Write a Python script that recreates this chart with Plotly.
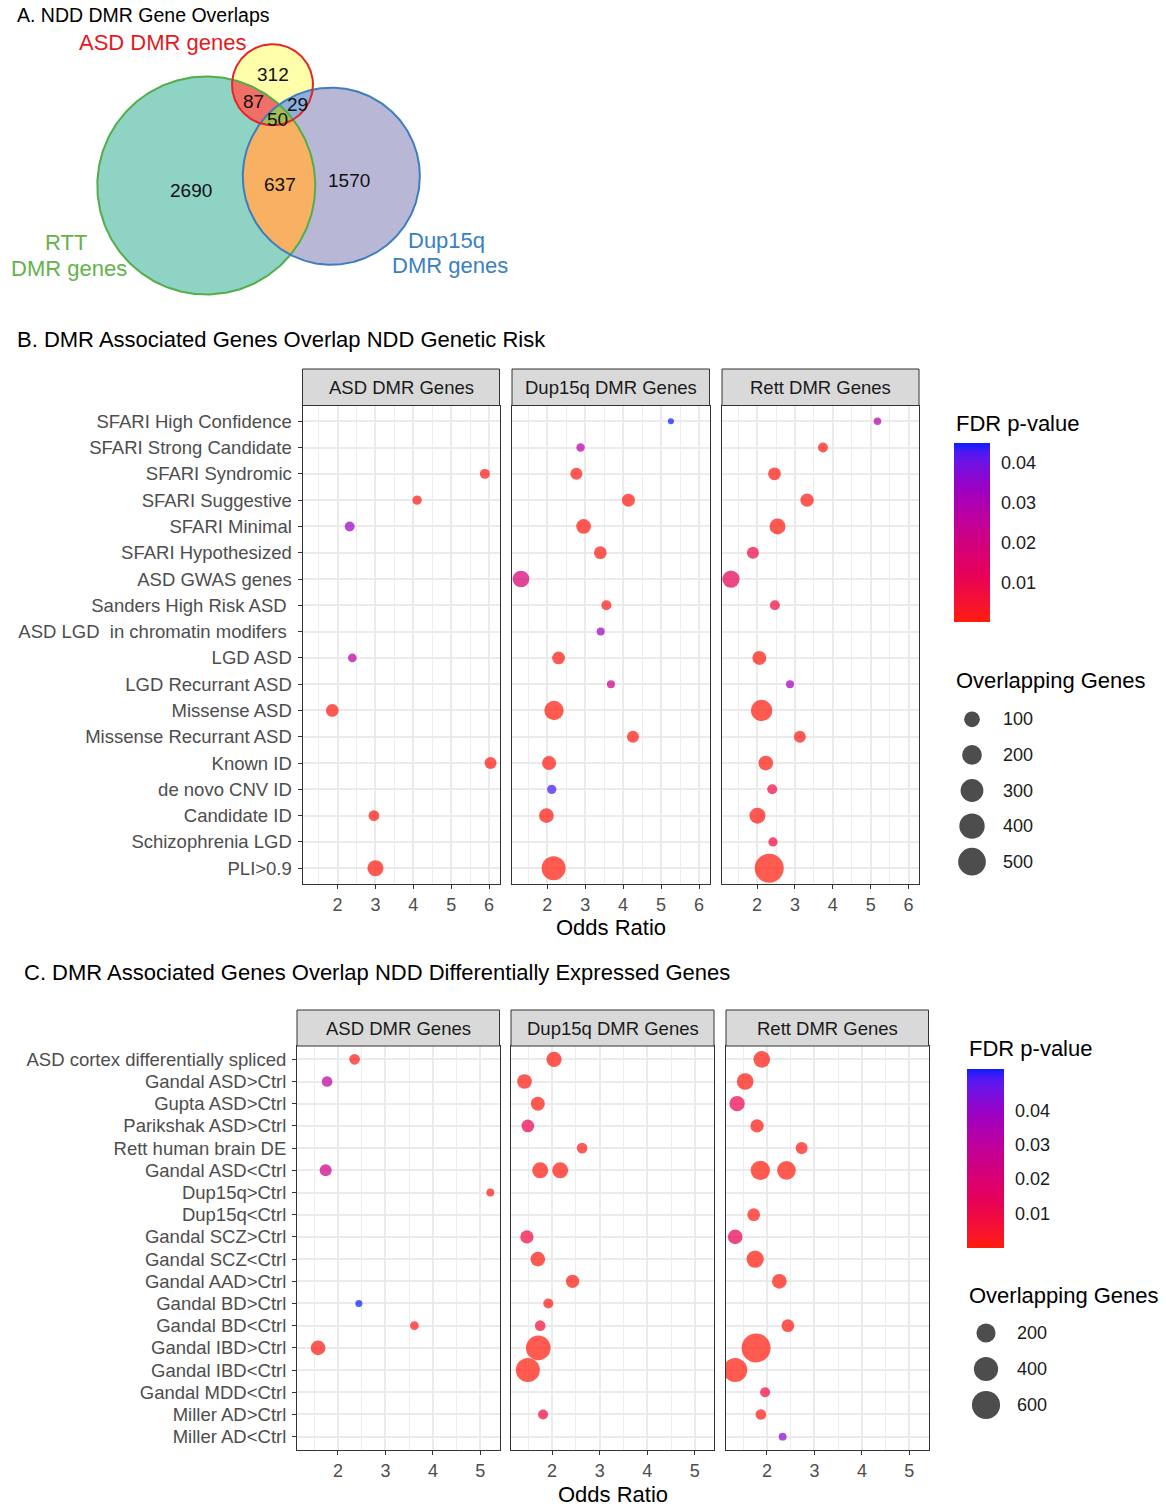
import math
import plotly.graph_objects as go

W, H = 1166, 1506
FONT = "Liberation Sans, Arial, Helvetica, sans-serif"

# ---------------- Panel A: DMR gene overlaps (region counts) ----------------
VENN_REGIONS = ["ASD only", "RTT only", "Dup15q only", "ASD & RTT",
                "ASD & Dup15q", "RTT & Dup15q", "ASD & RTT & Dup15q"]
VENN_COUNTS = [312, 2690, 1570, 87, 29, 637, 50]

# ---------------- Panel B: overlap with NDD genetic risk ----------------
FACETS = ["ASD DMR Genes", "Dup15q DMR Genes", "Rett DMR Genes"]
B_TERMS = [
    "SFARI High Confidence", "SFARI Strong Candidate", "SFARI Syndromic",
    "SFARI Suggestive", "SFARI Minimal", "SFARI Hypothesized", "ASD GWAS genes",
    "Sanders High Risk ASD\u00a0", "ASD LGD\u00a0 in chromatin modifers\u00a0",
    "LGD ASD", "LGD Recurrant ASD", "Missense ASD", "Missense Recurrant ASD",
    "Known ID", "de novo CNV ID", "Candidate ID", "Schizophrenia LGD", "PLI>0.9",
]
B_ASD_OR = [None, None, 5.89, 4.10, 2.32, None, None, None, None,
            2.39, None, 1.86, None, 6.04, None, 2.96, None, 3.00]
B_ASD_FDR = [None, None, 0.0008, 0.0010, 0.033, None, None, None, None,
             0.028, None, 0.0008, None, 0.0006, None, 0.0008, None, 0.0004]
B_ASD_GENES = [None, None, 17, 12, 17, None, None, None, None,
               8, None, 48, None, 38, None, 24, None, 106]

B_DUP_OR = [5.26, 2.88, 2.77, 4.14, 2.96, 3.40, 1.31, 3.56, 3.41,
            2.30, 3.68, 2.18, 4.26, 2.05, 2.12, 1.98, None, 2.17]
B_DUP_FDR = [0.045, 0.027, 0.0008, 0.0005, 0.0004, 0.0008, 0.018, 0.0012, 0.033,
             0.0005, 0.022, 0.0002, 0.0005, 0.0004, 0.043, 0.0004, None, 0.0001]
B_DUP_GENES = [1, 7, 38, 52, 80, 48, 121, 17, 5,
               48, 5, 188, 38, 68, 12, 80, None, 344]

B_RETT_OR = [5.18, 3.74, 2.46, 3.32, 2.54, 1.89, 1.31, 2.47, None,
             2.06, 2.87, 2.12, 3.13, 2.23, 2.40, 2.01, 2.42, 2.32]
B_RETT_FDR = [0.027, 0.0012, 0.0008, 0.0008, 0.0004, 0.009, 0.012, 0.007, None,
              0.0004, 0.032, 0.0002, 0.0008, 0.0004, 0.008, 0.0004, 0.008, 0.0001]
B_RETT_GENES = [3, 17, 48, 57, 106, 38, 135, 17, None,
                68, 5, 248, 38, 80, 17, 106, 12, 563]

B_X_TICKS = [2, 3, 4, 5, 6]
B_SIZE_BREAKS = [100, 200, 300, 400, 500]
B_FDR_TICKS = [0.01, 0.02, 0.03, 0.04]

# ---------------- Panel C: overlap with NDD differentially expressed genes ----------------
C_TERMS = [
    "ASD cortex differentially spliced", "Gandal ASD>Ctrl", "Gupta ASD>Ctrl",
    "Parikshak ASD>Ctrl", "Rett human brain DE", "Gandal ASD<Ctrl", "Gandal ASD<Ctrl",
    "Dup15q>Ctrl", "Dup15q<Ctrl", "Gandal SCZ>Ctrl", "Gandal SCZ<Ctrl",
    "Gandal AAD>Ctrl", "Gandal BD>Ctrl", "Gandal BD<Ctrl", "Gandal IBD>Ctrl",
    "Gandal IBD<Ctrl", "Gandal MDD<Ctrl", "Miller AD>Ctrl", "Miller AD<Ctrl",
]
C_ASD_OR = [2.35, 1.77, None, None, None, 1.74, None, 5.21, None, None, None,
            None, 2.44, 3.61, 1.58, None, None, None, None]
C_ASD_FDR = [0.0012, 0.030, None, None, None, 0.025, None, 0.0015, None, None, None,
             None, 0.052, 0.0015, 0.0008, None, None, None, None]
C_ASD_GENES = [19, 19, None, None, None, 35, None, 2, None, None, None,
               None, 1, 5, 80, None, None, None, None]

C_DUP_OR = [2.04, 1.42, 1.70, 1.49, 2.63, 1.75, 2.17, None, None, 1.47, 1.70,
            2.43, 1.92, 1.75, 1.71, 1.49, None, 1.81, None]
C_DUP_FDR = [0.0004, 0.0008, 0.0008, 0.012, 0.0012, 0.0004, 0.0004, None, None, 0.009, 0.0008,
             0.0008, 0.0012, 0.007, 0.0001, 0.0001, None, 0.009, None]
C_DUP_GENES = [93, 80, 67, 45, 19, 110, 110, None, None, 54, 80,
               54, 13, 19, 421, 388, None, 13, None]

C_RETT_OR = [1.89, 1.54, 1.37, 1.79, 2.73, 1.86, 2.41, None, 1.72, 1.33, 1.75,
             2.26, None, 2.44, 1.77, 1.33, 1.96, 1.87, 2.33]
C_RETT_FDR = [0.0004, 0.0004, 0.012, 0.0008, 0.0012, 0.0002, 0.0002, None, 0.0012, 0.013, 0.0004,
              0.0004, None, 0.0008, 0.0001, 0.0001, 0.009, 0.0012, 0.042]
C_RETT_GENES = [127, 127, 93, 54, 35, 204, 184, None, 45, 80, 143,
                80, None, 45, 650, 388, 13, 19, 2]

C_X_TICKS = [2, 3, 4, 5]
C_SIZE_BREAKS = [200, 400, 600]
C_FDR_TICKS = [0.01, 0.02, 0.03, 0.04]


# ---------------- colour scale: red -> blue interpolated in CIELAB ----------------
def _lin(c):
    c = c / 255.0
    return c / 12.92 if c <= 0.04045 else ((c + 0.055) / 1.055) ** 2.4


def rgb_to_lab(rgb):
    r, g, b = (_lin(v) for v in rgb)
    x = (0.4124 * r + 0.3576 * g + 0.1805 * b) / 0.95047
    y = (0.2126 * r + 0.7152 * g + 0.0722 * b) / 1.0
    z = (0.0193 * r + 0.1192 * g + 0.9505 * b) / 1.08883

    def f(t):
        return t ** (1 / 3) if t > 216 / 24389 else (24389 / 27 * t + 16) / 116

    fx_, fy_, fz_ = f(x), f(y), f(z)
    return 116 * fy_ - 16, 500 * (fx_ - fy_), 200 * (fy_ - fz_)


def lab_to_rgb(lab):
    L, a, b = lab
    fy_ = (L + 16) / 116
    fx_ = fy_ + a / 500
    fz_ = fy_ - b / 200

    def finv(t):
        return t ** 3 if t ** 3 > 216 / 24389 else (116 * t - 16) / (24389 / 27)

    x, y, z = 0.95047 * finv(fx_), finv(fy_), 1.08883 * finv(fz_)
    r = 3.2406 * x - 1.5372 * y - 0.4986 * z
    g = -0.9689 * x + 1.8758 * y + 0.0415 * z
    bb = 0.0557 * x - 0.2040 * y + 1.0570 * z

    def gam(c):
        c = min(max(c, 0.0), 1.0)
        return 12.92 * c if c <= 0.0031308 else 1.055 * c ** (1 / 2.4) - 0.055

    return tuple(int(round(255 * gam(c))) for c in (r, g, bb))


LOW, HIGH = rgb_to_lab((255, 28, 12)), rgb_to_lab((10, 30, 255))
FDR_SCALE = []
for i in range(21):
    t = i / 20
    lab = tuple(LOW[j] + (HIGH[j] - LOW[j]) * t for j in range(3))
    FDR_SCALE.append([t, "rgb(%d,%d,%d)" % lab_to_rgb(lab)])


# ---------------- helpers ----------------
def size_scale(values, d_min, d_max):
    vals = [v for v in values if v is not None]
    lo, hi = min(vals), max(vals)

    def f(n):
        return d_min + (d_max - d_min) * math.sqrt(max(n - lo, 0) / (hi - lo))
    return f


def html(s):
    return s.replace("<", "&lt;").replace(">", "&gt;")


def fx(x):
    return x / W


def fy(y):
    return 1 - y / H


fig = go.Figure()
layout = dict(
    width=W, height=H, margin=dict(l=0, r=0, t=0, b=0),
    paper_bgcolor="white", plot_bgcolor="rgba(0,0,0,0)",
    showlegend=False, font=dict(family=FONT, color="#000000"),
)
shapes, annotations = [], []

GRID = "#EBEBEB"
BORDER = "#333333"
TICK_TXT = "#4D4D4D"


def add_panel(idx, terms, facets_data, x_px, y_top, y_bot, strip_top,
              x_ticks, coloraxis, size_fn, xrange_):
    rows = list(dict.fromkeys(terms))
    nrow = len(rows)
    minor = [t + 0.5 for t in range(0, 8) if xrange_[0] < t + 0.5 < xrange_[1]]
    for k, ((x0, x1), (ors, fdrs, genes)) in enumerate(zip(x_px, facets_data)):
        ax = idx + k
        xs, ys, cs, ss = [], [], [], []
        for term, o, p, n in zip(terms, ors, fdrs, genes):
            if o is None:
                continue
            xs.append(o)
            ys.append(rows.index(term) + 1)
            cs.append(p)
            ss.append(size_fn(n))
        sfx = "" if ax == 1 else str(ax)
        fig.add_trace(go.Scatter(
            x=xs, y=ys, mode="markers", xaxis="x" + sfx, yaxis="y" + sfx,
            marker=dict(size=ss, color=cs, coloraxis=coloraxis, opacity=0.72,
                        line=dict(width=0)),
            hoverinfo="skip",
        ))
        layout["xaxis" + sfx] = dict(
            domain=[fx(x0), fx(x1)], range=xrange_, anchor="y" + sfx,
            tickmode="array", tickvals=x_ticks, ticks="outside", ticklen=4,
            tickwidth=1, tickcolor=BORDER,
            tickfont=dict(size=18, color=TICK_TXT, family=FONT),
            showgrid=True, gridcolor=GRID, gridwidth=1.5,
            minor=dict(tickmode="array", tickvals=minor, showgrid=True,
                       gridcolor="#EDEDED", gridwidth=1, ticks=""),
            showline=True, mirror=True, linecolor=BORDER, linewidth=1,
            zeroline=False, fixedrange=True,
        )
        layout["yaxis" + sfx] = dict(
            domain=[fy(y_bot), fy(y_top)], range=[nrow + 0.6, 0.4],
            anchor="x" + sfx, tickmode="array",
            tickvals=list(range(1, nrow + 1)), ticktext=[html(r) for r in rows],
            showticklabels=(k == 0), ticks="outside" if k == 0 else "",
            ticklen=4, tickwidth=1, tickcolor=BORDER, ticklabelstandoff=2,
            tickfont=dict(size=18.5, color=TICK_TXT, family=FONT),
            showgrid=True, gridcolor=GRID, gridwidth=1.5,
            showline=True, mirror=True, linecolor=BORDER, linewidth=1,
            zeroline=False, fixedrange=True,
        )
        # facet strip
        shapes.append(dict(type="rect", xref="paper", yref="paper",
                           x0=fx(x0), x1=fx(x1), y0=fy(y_top), y1=fy(strip_top),
                           fillcolor="#D9D9D9", line=dict(color=BORDER, width=1)))
        annotations.append(dict(xref="paper", yref="paper",
                                x=fx((x0 + x1) / 2), y=fy((y_top + strip_top) / 2),
                                text=FACETS[k], showarrow=False,
                                font=dict(size=18.5, color="#1A1A1A", family=FONT),
                                xanchor="center", yanchor="middle"))


def x_range(*lists):
    vals = [v for l in lists for v in l if v is not None]
    lo, hi = min(vals), max(vals)
    pad = (hi - lo) * 0.05
    return [lo - pad, hi + pad]


b_size = size_scale(B_ASD_GENES + B_DUP_GENES + B_RETT_GENES, 6.1, 29.0)
c_size = size_scale(C_ASD_GENES + C_DUP_GENES + C_RETT_GENES, 7.0, 29.0)

add_panel(1, B_TERMS,
          [(B_ASD_OR, B_ASD_FDR, B_ASD_GENES),
           (B_DUP_OR, B_DUP_FDR, B_DUP_GENES),
           (B_RETT_OR, B_RETT_FDR, B_RETT_GENES)],
          [(302.5, 499.5), (512, 709.5), (722, 919)], 405.5, 884, 369,
          B_X_TICKS, "coloraxis", b_size, x_range(B_ASD_OR, B_DUP_OR, B_RETT_OR))
add_panel(4, C_TERMS,
          [(C_ASD_OR, C_ASD_FDR, C_ASD_GENES),
           (C_DUP_OR, C_DUP_FDR, C_DUP_GENES),
           (C_RETT_OR, C_RETT_FDR, C_RETT_GENES)],
          [(297, 499.5), (511, 714), (726, 928.5)], 1046, 1450, 1010,
          C_X_TICKS, "coloraxis2", c_size, x_range(C_ASD_OR, C_DUP_OR, C_RETT_OR))


def fdr_max(*lists):
    return max(v for l in lists for v in l if v is not None)


BAR_LEN = 179


def colorbar(x_left, y_top, thick, ticks, cmax):
    # white tick marks on both edges of the bar, as in the ggplot guide
    for v in ticks:
        y = y_top + (cmax - v) / cmax * BAR_LEN
        for a, b in ((x_left, x_left + 7), (x_left + thick - 7, x_left + thick)):
            shapes.append(dict(type="line", xref="paper", yref="paper",
                               x0=fx(a), x1=fx(b), y0=fy(y), y1=fy(y),
                               line=dict(color="rgba(255,255,255,0.75)", width=1)))
    return dict(
        thickness=thick, thicknessmode="pixels", len=BAR_LEN, lenmode="pixels",
        x=fx(x_left), xanchor="left", y=fy(y_top), yanchor="top",
        xpad=0, ypad=0, outlinewidth=0,
        tickmode="array", tickvals=ticks, ticktext=["%.2f" % t for t in ticks],
        ticks="outside", ticklen=8, tickcolor="rgba(255,255,255,0)", tickwidth=1,
        tickfont=dict(size=18, color="#1A1A1A", family=FONT),
    )


B_CMAX = fdr_max(B_ASD_FDR, B_DUP_FDR, B_RETT_FDR)
C_CMAX = fdr_max(C_ASD_FDR, C_DUP_FDR, C_RETT_FDR)
layout["coloraxis"] = dict(colorscale=FDR_SCALE, cmin=0, cmax=B_CMAX,
                           colorbar=colorbar(954, 443, 36, B_FDR_TICKS, B_CMAX))
layout["coloraxis2"] = dict(colorscale=FDR_SCALE, cmin=0, cmax=C_CMAX,
                            colorbar=colorbar(967, 1069, 37, C_FDR_TICKS, C_CMAX))

# ---------------- pixel-space overlay for the Venn diagram and size keys ----------------
layout["xaxis7"] = dict(domain=[0, 1], range=[0, W], visible=False, fixedrange=True,
                        anchor="y7")
layout["yaxis7"] = dict(domain=[0, 1], range=[H, 0], visible=False, fixedrange=True,
                        anchor="x7")

counts = dict(zip(VENN_REGIONS, VENN_COUNTS))
totals = {
    "ASD": sum(c for r, c in counts.items() if "ASD" in r),
    "RTT": sum(c for r, c in counts.items() if "RTT" in r),
    "Dup15q": sum(c for r, c in counts.items() if "Dup15q" in r),
}
RADIUS_PER_SQRT = 1.852
centres = {"ASD": (272.5, 84.7), "RTT": (206.3, 185.5), "Dup15q": (331.3, 176.2)}
circles = {k: (centres[k][0], centres[k][1], RADIUS_PER_SQRT * math.sqrt(totals[k]))
           for k in totals}


def ring(c, n=360):
    cx, cy, r = c
    return [(cx + r * math.cos(2 * math.pi * i / n), cy + r * math.sin(2 * math.pi * i / n))
            for i in range(n)]


def inside(p, c):
    return (p[0] - c[0]) ** 2 + (p[1] - c[1]) ** 2 <= c[2] ** 2 + 1e-6


def intersection(names):
    cs = [circles[n] for n in names]
    pts = []
    for i, c in enumerate(cs):
        others = [o for j, o in enumerate(cs) if j != i]
        pts += [p for p in ring(c, 720) if all(inside(p, o) for o in others)]
    mx = sum(p[0] for p in pts) / len(pts)
    my = sum(p[1] for p in pts) / len(pts)
    pts.sort(key=lambda p: math.atan2(p[1] - my, p[0] - mx))
    return pts


def poly_trace(pts, fill=None, line=None, width=0):
    xs = [p[0] for p in pts] + [pts[0][0]]
    ys = [p[1] for p in pts] + [pts[0][1]]
    return go.Scatter(x=xs, y=ys, xaxis="x7", yaxis="y7", mode="lines",
                      fill="toself" if fill else None, fillcolor=fill,
                      line=dict(color=line or "rgba(0,0,0,0)", width=width),
                      hoverinfo="skip")


fig.add_trace(poly_trace(ring(circles["RTT"]), fill="#8FD3C4"))
fig.add_trace(poly_trace(ring(circles["Dup15q"]), fill="#B9B7D6"))
fig.add_trace(poly_trace(ring(circles["ASD"]), fill="#FFFFAA"))
fig.add_trace(poly_trace(intersection(["ASD", "RTT"]), fill="#F07067"))
fig.add_trace(poly_trace(intersection(["ASD", "Dup15q"]), fill="#8DB0DC"))
fig.add_trace(poly_trace(intersection(["RTT", "Dup15q"]), fill="#F8B062"))
fig.add_trace(poly_trace(intersection(["ASD", "RTT", "Dup15q"]), fill="#A3BE52"))
fig.add_trace(poly_trace(ring(circles["RTT"]), line="#52AE48", width=2))
fig.add_trace(poly_trace(ring(circles["Dup15q"]), line="#3E7EC0", width=2))
fig.add_trace(poly_trace(ring(circles["ASD"]), line="#E3262A", width=2))

venn_label_pos = {
    "ASD only": (273.3, 74), "ASD & RTT": (253.3, 101.5), "ASD & Dup15q": (297.5, 104),
    "ASD & RTT & Dup15q": (277.3, 119), "RTT only": (190.7, 190.5),
    "RTT & Dup15q": (280, 184), "Dup15q only": (349.3, 180),
}
for region, cnt in zip(VENN_REGIONS, VENN_COUNTS):
    x, y = venn_label_pos[region]
    annotations.append(dict(xref="x7", yref="y7", x=x, y=y, text=str(cnt),
                            showarrow=False, xanchor="center", yanchor="middle",
                            font=dict(size=19, color="#111111", family=FONT)))


def text(x, y, s, size, color="#000000", xanchor="left"):
    annotations.append(dict(xref="x7", yref="y7", x=x, y=y, text=s, showarrow=False,
                            xanchor=xanchor, yanchor="middle",
                            font=dict(size=size, color=color, family=FONT)))


text(163.3, 42, "ASD DMR genes", 22, "#E41A1C", "center")
text(66, 242, "RTT", 22, "#63B34A", "center")
text(69, 268.5, "DMR genes", 22, "#63B34A", "center")
text(446, 240, "Dup15q", 22, "#3A80C3", "center")
text(449.5, 265.5, "DMR genes", 22, "#3A80C3", "center")

# panel titles
text(15, 15, "A. NDD DMR Gene Overlaps", 19.5)
text(15, 339, "B. DMR Associated Genes Overlap NDD Genetic Risk", 22)
text(22, 972, "C. DMR Associated Genes Overlap NDD Differentially Expressed Genes", 22)
text(610.5, 927.5, "Odds Ratio", 22, "#000000", "center")
text(612.5, 1494, "Odds Ratio", 22, "#000000", "center")

# legends
text(954, 423, "FDR p-value", 22)
text(954, 680, "Overlapping Genes", 22)
text(967, 1048, "FDR p-value", 22)
text(967, 1295, "Overlapping Genes", 22)


def size_key(values, fn, x_dot, y0, step, x_lab):
    ys = [y0 + i * step for i in range(len(values))]
    fig.add_trace(go.Scatter(
        x=[x_dot] * len(values), y=ys, xaxis="x7", yaxis="y7", mode="markers",
        marker=dict(size=[fn(v) for v in values], color="#4D4D4D", opacity=1,
                    line=dict(width=0)),
        hoverinfo="skip"))
    for v, y in zip(values, ys):
        text(x_lab, y, str(v), 18, "#1A1A1A")


size_key(B_SIZE_BREAKS, b_size, 972, 719.3, 35.6, 1000.5)
size_key(C_SIZE_BREAKS, c_size, 986, 1333, 36, 1015)

layout["shapes"] = shapes
layout["annotations"] = annotations
fig.update_layout(**layout)
fig.write_html("out.html")
